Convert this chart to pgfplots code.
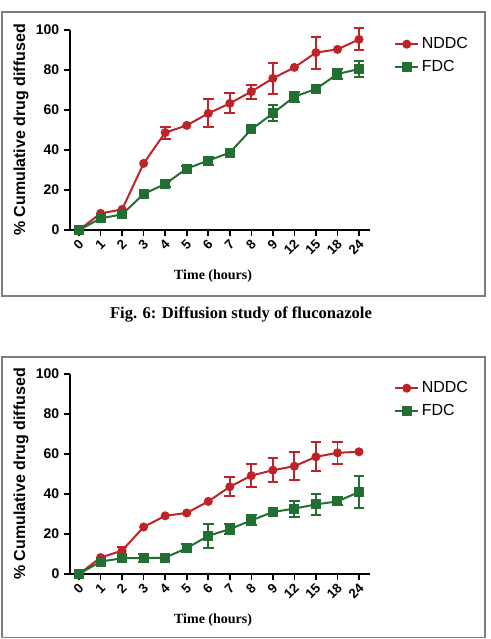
\documentclass[border=0pt]{standalone}
\usepackage{fontspec}
\setmainfont{Liberation Sans}
\newfontfamily\serifbf{Liberation Serif}
\usepackage{pgfplots}
\pgfplotsset{compat=1.18}
\usepackage{pgfplotstable}
\definecolor{nred}{RGB}{190,35,40}
\definecolor{fgreen}{RGB}{35,110,50}
\definecolor{framegray}{RGB}{125,125,125}

% x = category index (0..13 for 0,1,2,3,4,5,6,7,8,9,12,15,18,24 h)
\pgfplotstableread{
x y
0 0
1 8.3
2 10.3
3 33.3
4 48.7
5 52.3
6 58.3
7 63.3
8 69.2
9 75.8
10 81.3
11 88.7
12 90.3
13 95.3
}\topN
\pgfplotstableread{
x y
0 0
1 5.8
2 7.8
3 18.0
4 23.0
5 30.7
6 34.7
7 38.7
8 50.3
9 58.3
10 66.7
11 70.5
12 78.0
13 80.5
}\topF
\pgfplotstableread{
x y
0 0
1 8.2
2 11.7
3 23.5
4 29.1
5 30.5
6 36.3
7 43.6
8 49.2
9 51.9
10 53.9
11 58.6
12 60.6
13 61.1
}\botN
\pgfplotstableread{
x y
0 0
1 6.2
2 7.9
3 7.9
4 8.2
5 12.9
6 19.1
7 22.4
8 26.8
9 31.0
10 32.7
11 34.8
12 36.3
13 41.0
}\botF

\pgfplotsset{
  diff/.style={
    scale only axis, width=225pt, height=150pt,
    xmin=-0.42, xmax=13.51, ymin=0, ymax=100,
    axis lines=left,
    axis line style={-, line width=1.2pt},
    tick style={black, line width=1.2pt},
    tick align=outside, major tick length=4.5pt,
    xtick={0,...,13},
    xticklabels={0,1,2,3,4,5,6,7,8,9,12,15,18,24},
    ytick={0,20,40,60,80,100},
    /pgf/number format/assume math mode=true,
    ticklabel style={font=\bfseries\fontsize{10.5}{12}\selectfont},
    xticklabel style={xshift=2.5pt, yshift=-3.5pt, rotate=45, anchor=east, inner sep=1pt,
      font=\bfseries\fontsize{10}{12}\selectfont},
    ylabel={\% Cumulative drug diffused},
    ylabel style={font=\bfseries\fontsize{12}{14}\selectfont, at={(axis description cs:-0.163,0.5)}, anchor=center},
    xlabel={\serifbf\bfseries Time (hours)},
    xlabel style={font=\fontsize{10.5}{12}\selectfont, at={(axis description cs:0.477,-0.23)}, anchor=center},
    legend style={at={(axis description cs:1.067,0.99)}, anchor=north west, draw=none, fill=none,
      font=\fontsize{12}{14}\selectfont, row sep=3pt},
    legend cell align=left,
    clip=false,
  },
  nser/.style={color=nred, line width=1.5pt, mark=*, mark size=2.6pt, mark options={solid}},
  fser/.style={color=fgreen, line width=1.5pt, mark=square*, mark size=3pt, mark options={solid}},
  errN/.style={color=nred, only marks, mark=none, forget plot,
    error bars/.cd, y dir=both, y explicit,
    error bar style={line width=1.4pt},
    error mark options={rotate=90, mark size=4pt, line width=1.4pt}},
  errF/.style={color=fgreen, only marks, mark=none, forget plot,
    error bars/.cd, y dir=both, y explicit,
    error bar style={line width=1.4pt},
    error mark options={rotate=90, mark size=4pt, line width=1.4pt}},
}

\begin{document}
\begin{tikzpicture}[x=0.75pt, y=0.75pt]
\useasboundingbox (0,0) rectangle (491,639);
% frames
\draw[framegray, line width=1pt] (2,627) rectangle (485,343);
\draw[framegray, line width=1pt] (2,282) rectangle (485,1.5);
% caption
\node[font=\serifbf\bfseries\fontsize{12.4}{14}\selectfont] at (241,324) {Fig. 6: Diffusion study of fluconazole};

\begin{axis}[diff, at={(52.5pt,306.75pt)}, anchor=south west]
\addplot[nser] table[x=x, y=y] {\topN};
\addlegendentry{NDDC}
\addplot[fser] table[x=x, y=y] {\topF};
\addlegendentry{FDC}
\addplot[errN] coordinates {(4,48.7) +- (0,3) (6,58.3) +- (0,7) (7,63.3) +- (0,5) (8,69.2) +- (0,3.5) (9,75.8) +- (0,7.7) (11,88.7) +- (0,8) (13,95.3) +- (0,5.5)};
\addplot[errF] coordinates {(4,23.0) +- (0,1.5) (5,30.7) +- (0,1.5) (6,34.7) +- (0,2) (9,58.3) +- (0,4) (10,66.7) +- (0,2.5) (12,78.0) +- (0,2.5) (13,80.5) +- (0,3.8)};
\end{axis}

\begin{axis}[diff, at={(52.5pt,48.75pt)}, anchor=south west]
\addplot[nser] table[x=x, y=y] {\botN};
\addlegendentry{NDDC}
\addplot[fser] table[x=x, y=y] {\botF};
\addlegendentry{FDC}
\addplot[errN] coordinates {(2,11.7) +- (0,2) (7,43.6) +- (0,4.8) (8,49.2) +- (0,5.8) (9,51.9) +- (0,6) (10,53.9) +- (0,7) (11,58.6) +- (0,7.3) (12,60.6) +- (0,5.6)};
\addplot[errF] coordinates {(3,7.9) +- (0,2) (5,12.9) +- (0,2) (6,19.1) +- (0,6) (7,22.4) +- (0,2.5) (8,26.8) +- (0,2.5) (10,32.7) +- (0,4) (11,34.8) +- (0,5.2) (12,36.3) +- (0,2) (13,41.0) +- (0,8)};
\end{axis}
\end{tikzpicture}
\end{document}
